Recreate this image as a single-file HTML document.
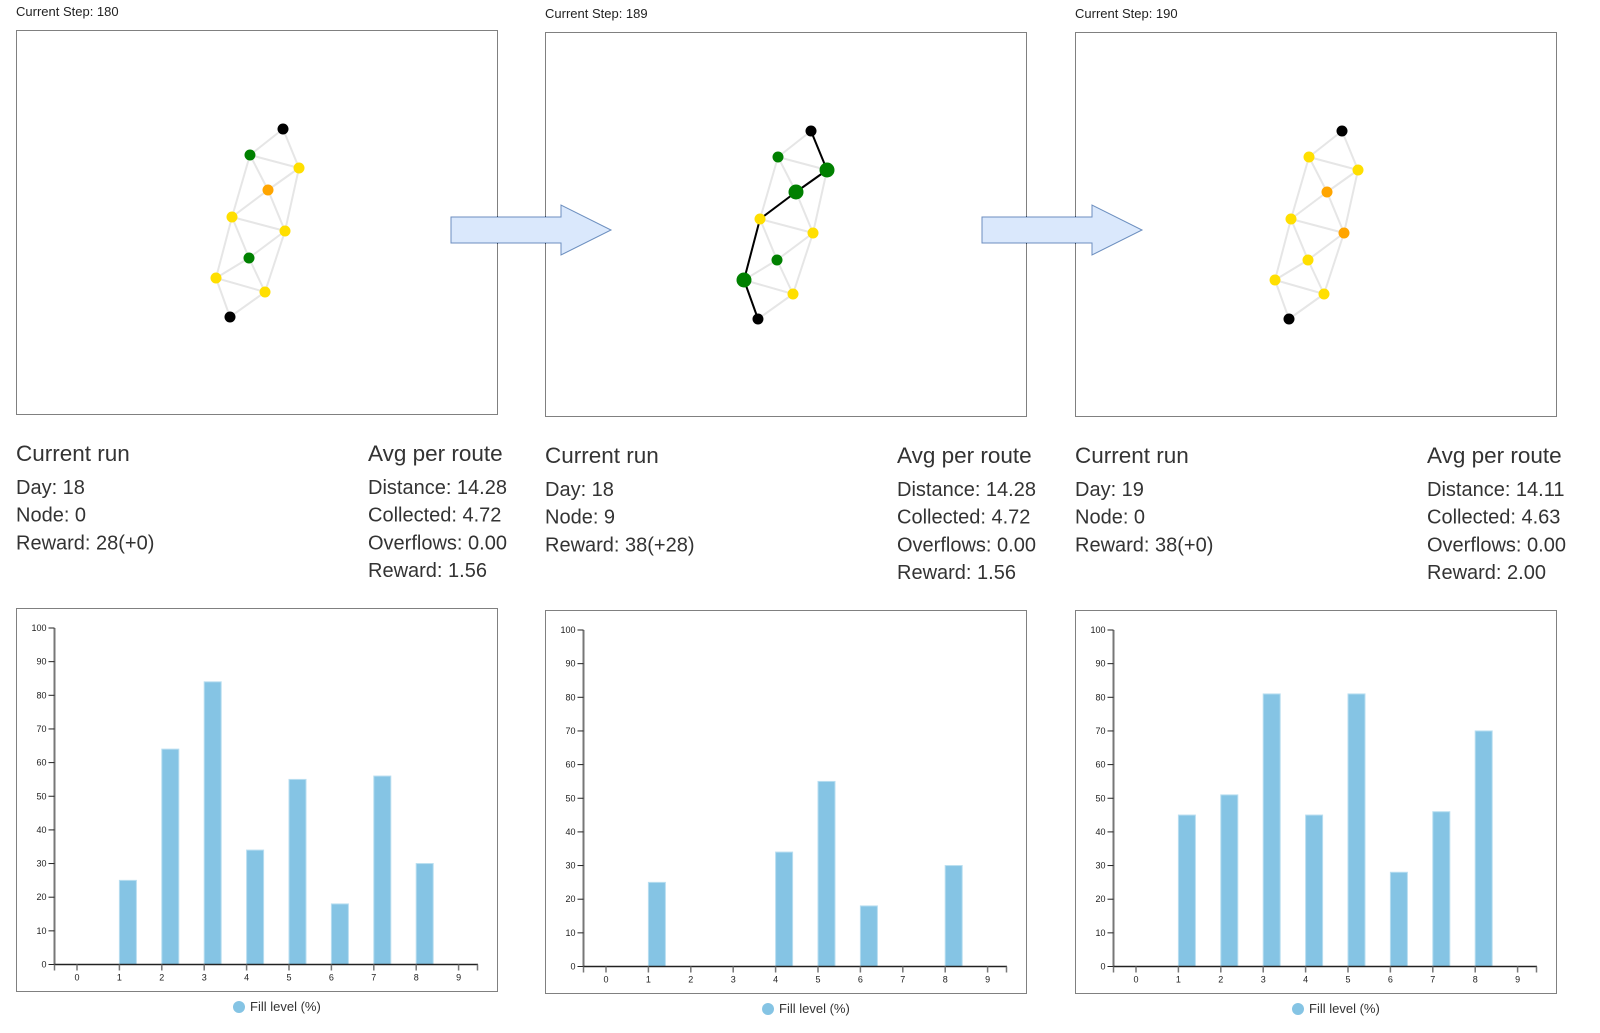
<!DOCTYPE html>
<html><head><meta charset="utf-8">
<style>
html,body{margin:0;padding:0;background:#fff;}
svg{display:block;font-family:"Liberation Sans",sans-serif;}
</style></head>
<body>
<svg id="root" width="1600" height="1033" viewBox="0 0 1600 1033" xmlns="http://www.w3.org/2000/svg"></svg>
<script>
const steps = ["Current Step: 180","Current Step: 189","Current Step: 190"];
const runLines1 = ["Day: 18","Node: 0","Reward: 28(+0)"];
const runLines2 = ["Day: 18","Node: 9","Reward: 38(+28)"];
const runLines3 = ["Day: 19","Node: 0","Reward: 38(+0)"];
const avgLines1 = ["Distance: 14.28","Collected: 4.72","Overflows: 0.00","Reward: 1.56"];
const avgLines2 = ["Distance: 14.28","Collected: 4.72","Overflows: 0.00","Reward: 1.56"];
const avgLines3 = ["Distance: 14.11","Collected: 4.63","Overflows: 0.00","Reward: 2.00"];
const categories = [0,1,2,3,4,5,6,7,8,9];
const fill1 = [0,25,64,84,34,55,18,56,30,0];
const fill2 = [0,25,0,0,34,55,18,0,30,0];
const fill3 = [0,45,51,81,45,81,28,46,70,0];
const yTicks = [0,10,20,30,40,50,60,70,80,90,100];
const nodeX = [283,250,299,268,232,285,249,216,265,230];
const nodeY = [129,155,168,190,217,231,258,278,292,317];
const edges = [[0,1],[0,2],[1,2],[1,3],[2,3],[2,5],[3,4],[3,5],[1,4],[4,5],[4,6],[4,7],[5,6],[5,8],[6,7],[6,8],[7,8],[7,9],[8,9]];
const colors1 = ["k","g","y","o","y","y","g","y","y","k"];
const colors2 = ["k","g","g","g","y","y","g","g","y","k"];
const colors3 = ["k","y","y","o","y","o","y","y","y","k"];
const big2 = [2,3,7];
const route2 = [0,2,3,4,7,9];

const NS="http://www.w3.org/2000/svg";
const root=document.getElementById('root');
function mk(tag,attrs,parent){const e=document.createElementNS(NS,tag);for(const k in attrs)e.setAttribute(k,attrs[k]);(parent||root).appendChild(e);return e;}
const palette={k:"#000000",g:"#008000",y:"#ffdf00",o:"#ffa500"};

const panels=[
 {x:16,dy:0,step:steps[0],run:runLines1,avg:avgLines1,fill:fill1,col:colors1,big:[],route:[],nx:0},
 {x:545,dy:2,step:steps[1],run:runLines2,avg:avgLines2,fill:fill2,col:colors2,big:big2,route:route2,nx:528},
 {x:1075,dy:2,step:steps[2],run:runLines3,avg:avgLines3,fill:fill3,col:colors3,big:[],route:[],nx:1059}
];

panels.forEach((p,pi)=>{
  const g=mk('g',{});
  
  
  const t=mk('text',{x:p.x,y:16+p.dy,'font-size':13,fill:'#222'},g);t.textContent=p.step;
  
  
  const box=mk('rect',{x:p.x+0.5,y:30.5+p.dy,width:481,height:384,fill:'none',stroke:'#000','stroke-width':1,'stroke-dasharray':'1,1'},g);
  
  
  edges.forEach(e=>{
    const l=mk('line',{x1:nodeX[e[0]]+p.nx,y1:nodeY[e[0]]+p.dy,x2:nodeX[e[1]]+p.nx,y2:nodeY[e[1]]+p.dy,stroke:'#e6e6e6','stroke-width':2},g);
    
    
  });
  for(let i=0;i<p.route.length-1;i++){
    const a=p.route[i],b=p.route[i+1];
    const l=mk('line',{x1:nodeX[a]+p.nx,y1:nodeY[a]+p.dy,x2:nodeX[b]+p.nx,y2:nodeY[b]+p.dy,stroke:'#000','stroke-width':2},g);
    
    
  }
  nodeX.forEach((nx,i)=>{
    const c=mk('circle',{cx:nx+p.nx,cy:nodeY[i]+p.dy,r:p.big.includes(i)?7.5:5.5,fill:palette[p.col[i]]},g);
    
    
  });
  const h1=mk('text',{x:p.x,y:461+p.dy,'font-size':22.5,fill:'#333'},g);h1.textContent='Current run';
  
  
  p.run.forEach((s,i)=>{const t=mk('text',{x:p.x,y:494+p.dy+i*27.7,'font-size':20,fill:'#333'},g);t.textContent=s;
    
    });
  const h2=mk('text',{x:p.x+352,y:461+p.dy,'font-size':22.5,fill:'#333'},g);h2.textContent='Avg per route';
  
  
  p.avg.forEach((s,i)=>{const t=mk('text',{x:p.x+352,y:494+p.dy+i*27.7,'font-size':20,fill:'#333'},g);t.textContent=s;
    
    });
  const cy0=608+p.dy;
  const cb=mk('rect',{x:p.x+0.5,y:cy0+0.5,width:481,height:383,fill:'none',stroke:'#000','stroke-width':1,'stroke-dasharray':'1,1'},g);
  
  
  const axL=p.x+38.5, x0=p.x+61, step=42.4, base=cy0+356.5, top=cy0+20, ph=base-top;
  const xs=v=>x0+v*step, ys=v=>base-v/100*ph;
  p.fill.forEach((v,i)=>{
    if(v<=0)return;
    const r=mk('rect',{x:xs(categories[i]),y:ys(v),width:17,height:base-ys(v),fill:'#85c4e4',stroke:'#b8def0','stroke-width':1},g);
    
    
  });
  const ya=mk('line',{x1:axL,y1:top,x2:axL,y2:base,stroke:'#777','stroke-width':2},g);
  
  
  yTicks.forEach(v=>{
    mk('line',{x1:axL-6,y1:ys(v),x2:axL,y2:ys(v),stroke:'#222','stroke-width':1},g);
    const t=mk('text',{x:axL-8,y:ys(v)+3,'font-size':9,fill:'#222','text-anchor':'end'},g);t.textContent=v;
    
    
  });
  const xa=mk('line',{x1:axL,y1:base,x2:p.x+462,y2:base,stroke:'#222','stroke-width':1.5},g);
  
  
  mk('line',{x1:p.x+461.5,y1:base,x2:p.x+461.5,y2:base+6,stroke:'#777','stroke-width':1.5},g);
  mk('line',{x1:axL,y1:base,x2:axL,y2:base+6,stroke:'#777','stroke-width':1.5},g);
  categories.forEach(c=>{
    mk('line',{x1:xs(c),y1:base,x2:xs(c),y2:base+6,stroke:'#777','stroke-width':1.5},g);
    const t=mk('text',{x:xs(c),y:base+16,'font-size':9,fill:'#222','text-anchor':'middle'},g);t.textContent=c;
    
    
  });
  const lg=mk('g',{},g);
  
  
  mk('circle',{cx:p.x+223,cy:cy0+399,r:6,fill:'#85c4e4'},lg);
  const lt=mk('text',{x:p.x+234,y:cy0+403,'font-size':13,fill:'#333'},lg);lt.textContent='Fill level (%)';
});

[451,982].forEach((ax,i)=>{
  const a=mk('polygon',{points:`${ax},217 ${ax+110},217 ${ax+110},205 ${ax+160},230 ${ax+110},255 ${ax+110},243 ${ax},243`,fill:'#dae8fc',stroke:'#6c8ebf','stroke-width':1});
  
  
});
</script>
</body></html>
